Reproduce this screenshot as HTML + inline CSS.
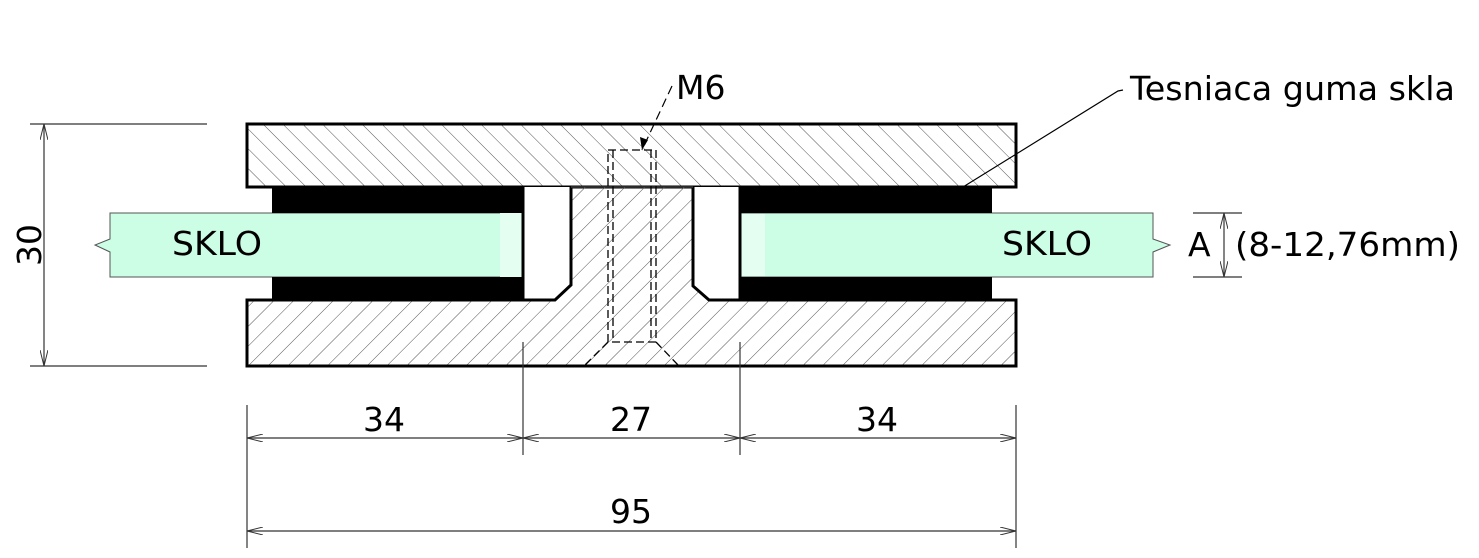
<!DOCTYPE html>
<html><head><meta charset="utf-8"><style>
html,body{margin:0;padding:0;background:#fff;}
svg{display:block;}
text{font-family:"DejaVu Sans","Liberation Sans",sans-serif;fill:#000;}
</style></head><body>
<svg width="1479" height="558" viewBox="0 0 1479 558" xmlns="http://www.w3.org/2000/svg">
<defs>
<pattern id="hb" patternUnits="userSpaceOnUse" width="14" height="14" patternTransform="rotate(-45)">
<line x1="0" y1="0" x2="0" y2="14" stroke="#555" stroke-width="1"/></pattern>
<pattern id="hf" patternUnits="userSpaceOnUse" width="14" height="14" patternTransform="rotate(45)">
<line x1="0" y1="0" x2="0" y2="14" stroke="#555" stroke-width="1"/></pattern>
<marker id="ar" markerWidth="16" markerHeight="8" refX="16" refY="4" orient="auto" markerUnits="userSpaceOnUse">
<path d="M0,0 L16,4 L0,8" fill="none" stroke="#333" stroke-width="1"/></marker>
<marker id="al" markerWidth="16" markerHeight="8" refX="0" refY="4" orient="auto" markerUnits="userSpaceOnUse">
<path d="M16,0 L0,4 L16,8" fill="none" stroke="#333" stroke-width="1"/></marker>
</defs>

<!-- glass -->
<path d="M110,213 L523,213 L523,277 L110,277 L110,252 L95,245 L110,239 Z" fill="#ccfde5" stroke="#555" stroke-width="1"/>
<rect x="500" y="213" width="23" height="64" fill="#e4fff2"/>
<path d="M740,213 L1153,213 L1153,239 L1170,245 L1153,252 L1153,277 L740,277 Z" fill="#ccfde5" stroke="#555" stroke-width="1"/>
<rect x="741" y="214" width="24" height="62" fill="#e4fff2"/>

<!-- rubber -->
<rect x="272" y="187" width="251" height="26" fill="#000"/>
<rect x="272" y="277" width="251" height="23" fill="#000"/>
<rect x="740" y="187" width="252" height="26" fill="#000"/>
<rect x="740" y="277" width="252" height="23" fill="#000"/>

<!-- top plate -->
<rect x="247" y="124" width="769" height="63" fill="url(#hb)" stroke="#000" stroke-width="3"/>
<!-- bottom plate + center -->
<path d="M247,300 L555,300 L571,285 L571,187 L693,187 L693,286 L709,300 L1016,300 L1016,366 L247,366 Z" fill="url(#hf)"/>
<path d="M571,187 L571,285 L555,300 L523,300 L523,187" fill="#fff" stroke="#000" stroke-width="3"/>
<path d="M693,187 L693,286 L709,300 L740,300 L740,187" fill="#fff" stroke="#000" stroke-width="3"/>
<polyline points="523,300 247,300 247,366 1016,366 1016,300 740,300" fill="none" stroke="#000" stroke-width="3"/>
<line x1="571" y1="187" x2="693" y2="187" stroke="#555" stroke-width="1"/>

<!-- hole dashed -->
<g fill="none" stroke="#000" stroke-width="1.3" stroke-dasharray="8,4">
<rect x="608" y="150" width="48" height="192"/>
<line x1="613" y1="150" x2="613" y2="342"/>
<line x1="651" y1="150" x2="651" y2="342"/>
<line x1="608" y1="342" x2="585" y2="365"/>
<line x1="656" y1="342" x2="678" y2="365"/>
</g>

<!-- M6 leader -->
<line x1="672" y1="86" x2="642" y2="150" stroke="#000" stroke-width="1.2" stroke-dasharray="9,5"/>
<path d="M642,150 L640,137 L648,140 Z" fill="#000"/>
<text x="676" y="99" font-size="33">M6</text>
<!-- Tesniaca leader -->
<polyline points="963,187 1118,91 1123,90" fill="none" stroke="#000" stroke-width="1.2"/>
<text x="1130" y="100" font-size="33" textLength="325" lengthAdjust="spacingAndGlyphs">Tesniaca guma skla</text>

<text x="172" y="255" font-size="33" textLength="90" lengthAdjust="spacingAndGlyphs">SKLO</text>
<text x="1002" y="255" font-size="33" textLength="90" lengthAdjust="spacingAndGlyphs">SKLO</text>

<!-- dimension 30 -->
<g stroke="#333" stroke-width="1.2">
<line x1="30" y1="124" x2="207" y2="124"/>
<line x1="30" y1="366" x2="207" y2="366"/>
<line x1="44" y1="124" x2="44" y2="366" marker-start="url(#al)" marker-end="url(#ar)"/>
</g>
<text transform="translate(41,245) rotate(-90)" font-size="33" text-anchor="middle">30</text>

<!-- A dimension -->
<g stroke="#333" stroke-width="1.2">
<line x1="1193" y1="213" x2="1242" y2="213"/>
<line x1="1193" y1="277" x2="1242" y2="277"/>
<line x1="1224" y1="213" x2="1224" y2="277" marker-start="url(#al)" marker-end="url(#ar)"/>
</g>
<text x="1188" y="256" font-size="33">A</text>
<text x="1235" y="256" font-size="33" textLength="225" lengthAdjust="spacingAndGlyphs">(8-12,76mm)</text>

<!-- bottom dims -->
<g stroke="#333" stroke-width="1.2">
<line x1="247" y1="405" x2="247" y2="548"/>
<line x1="523" y1="342" x2="523" y2="455"/>
<line x1="740" y1="342" x2="740" y2="455"/>
<line x1="1016" y1="405" x2="1016" y2="548"/>
<line x1="247" y1="438" x2="523" y2="438" marker-start="url(#al)" marker-end="url(#ar)"/>
<line x1="523" y1="438" x2="740" y2="438" marker-start="url(#al)" marker-end="url(#ar)"/>
<line x1="740" y1="438" x2="1016" y2="438" marker-start="url(#al)" marker-end="url(#ar)"/>
<line x1="247" y1="531" x2="1016" y2="531" marker-start="url(#al)" marker-end="url(#ar)"/>
</g>
<text x="384" y="431" font-size="33" text-anchor="middle">34</text>
<text x="631" y="431" font-size="33" text-anchor="middle">27</text>
<text x="877" y="431" font-size="33" text-anchor="middle">34</text>
<text x="631" y="523" font-size="33" text-anchor="middle">95</text>
</svg>
</body></html>
